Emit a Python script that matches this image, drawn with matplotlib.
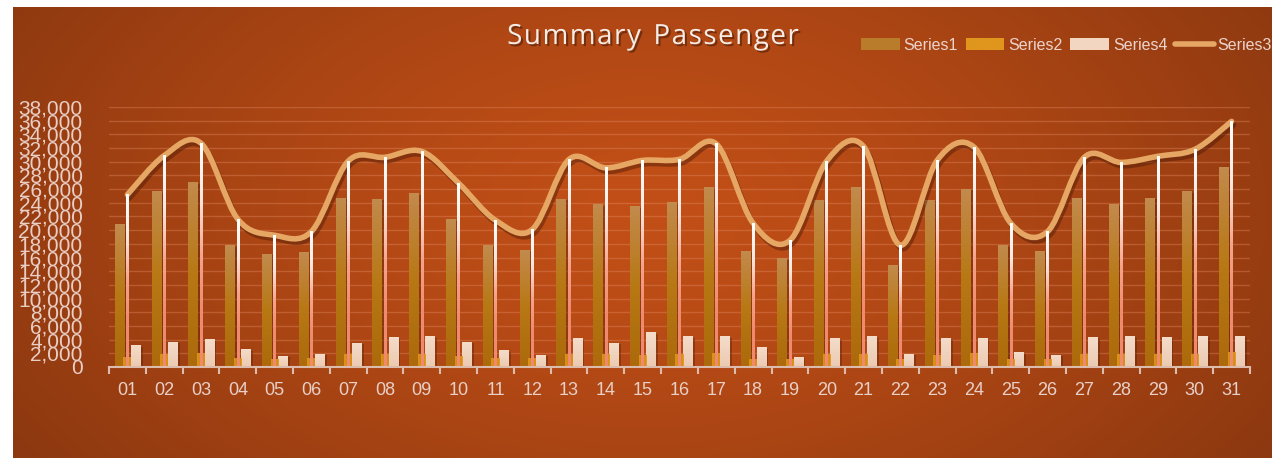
import numpy as np
import matplotlib
matplotlib.use("Agg")
from matplotlib import pyplot as plt
from matplotlib import patheffects as pe
from matplotlib.path import Path
from matplotlib.patches import PathPatch, Patch
from matplotlib.lines import Line2D
from matplotlib.colors import LinearSegmentedColormap, to_rgb
from matplotlib.ticker import FuncFormatter, MultipleLocator

# values
days = ["%02d" % d for d in range(1, 32)]
series1 = [20800, 25600, 26900, 17800, 16500, 16800, 24700, 24550, 25400, 21500,
           17800, 17100, 24550, 23800, 23500, 24100, 26200, 16950, 15800, 24300,
           26200, 14900, 24400, 26000, 17800, 16950, 24700, 23800, 24700, 25600, 29200]
series2 = [1460, 1900, 2050, 1300, 1170, 1300, 1900, 1900, 1900, 1600,
           1300, 1300, 1900, 1900, 1750, 1900, 2050, 1170, 1170, 1900,
           1900, 1170, 1750, 2050, 1170, 1170, 1900, 1900, 1900, 1900, 2200]
series4 = [3070, 3650, 3950, 2500, 1600, 1900, 3500, 4240, 4400, 3650,
           2340, 1750, 4100, 3500, 4970, 4500, 4400, 2900, 1460, 4100,
           4400, 1900, 4100, 4100, 2050, 1750, 4240, 4400, 4240, 4400, 4500]
series3 = [25200, 30900, 32700, 21600, 19250, 19800, 30100, 30650, 31500, 26850,
           21450, 20100, 30350, 29100, 30200, 30350, 32600, 21000, 18500, 30100,
           32250, 17800, 30200, 32150, 21000, 19800, 30650, 29900, 30800, 31800, 35900]

W, H = 1285, 458
fig = plt.figure(figsize=(W / 100, H / 100), dpi=100, facecolor="white")

# background panel with a soft radial gradient
bg = fig.add_axes([13 / W, 0, 1259 / W, 451 / H], zorder=-10)
u, v = np.meshgrid(np.linspace(0, 1, 400), np.linspace(0, 1, 200))
d = np.clip(np.sqrt(((u - 0.5) / 0.6) ** 2 + ((v - 0.55) / 1.0) ** 2), 0, 1) ** 1.3
c_mid, c_edge = np.array(to_rgb("#c24f17")), np.array(to_rgb("#8c3810"))
img = c_mid[None, None, :] * (1 - d[..., None]) + c_edge[None, None, :] * d[..., None]
bg.imshow(img, aspect="auto", extent=[0, 1, 0, 1], origin="lower")
bg.axis("off")

ax = fig.add_axes([109 / W, 91 / H, 1141 / W, 260 / H])
ax.set_facecolor("none")
x = np.arange(len(days))

# grid
ax.yaxis.set_major_locator(MultipleLocator(2000))
ax.grid(axis="y", color="#e8906a", alpha=0.35, lw=1)
ax.set_axisbelow(True)
for s in ["top", "right", "left"]:
    ax.spines[s].set_visible(False)
ax.spines["bottom"].set_color("#dcbcac")
ax.spines["bottom"].set_linewidth(1.5)
ax.spines["bottom"].set_zorder(6)


def gradient_bars(bars, top, mid, bottom):
    cmap = LinearSegmentedColormap.from_list("g", [top, mid, bottom])
    grad = np.linspace(0, 1, 64)[:, None]
    for b in bars:
        x0, w, h = b.get_x(), b.get_width(), b.get_height()
        ax.imshow(grad, cmap=cmap, aspect="auto", extent=[x0, x0 + w, 0, h],
                  zorder=b.get_zorder() + 0.1)


shadow = [pe.SimplePatchShadow(offset=(2, -1), shadow_rgbFace="#4a1a05", alpha=0.35), pe.Normal()]
b1 = ax.bar(x - 0.22, series1, width=0.245, color="#b87818", zorder=2)
b4 = ax.bar(x + 0.22, series4, width=0.245, color="#f0d2bc", zorder=2)
for b in list(b1) + list(b4):
    b.set_path_effects(shadow)
gradient_bars(b1, "#c28a4c", "#b87814", "#ac6a0c")
gradient_bars(b4, "#f4dcca", "#f0d3bd", "#eccab2")
ax.bar(x, series2, width=0.22, color="#e0961c", alpha=0.9, zorder=3)

# smooth total line (Catmull-Rom style bezier, like a spreadsheet smoothed line)
pts = np.column_stack([x, series3]).astype(float)
ext = np.vstack([pts[0], pts, pts[-1]])
verts, codes = [pts[0]], [Path.MOVETO]
for i in range(len(pts) - 1):
    p0, p1, p2, p3 = ext[i], ext[i + 1], ext[i + 2], ext[i + 3]
    verts += [p1 + (p2 - p0) / 6, p2 - (p3 - p1) / 6, p2]
    codes += [Path.CURVE4] * 3
curve = PathPatch(Path(verts, codes), fill=False, edgecolor="#e6a664", lw=4, zorder=4,
                  capstyle="round", joinstyle="round")
curve.set_path_effects([pe.SimpleLineShadow(offset=(1.5, -2.5), shadow_color="#4a1805", alpha=0.45),
                        pe.Normal()])
ax.add_patch(curve)

# drop lines: white at the top fading to salmon at the axis
drop_cmap = LinearSegmentedColormap.from_list("drop", ["#ffffff", "#fde6de", "#f6a48c", "#f08a6e", "#f08a6e"])
drop_grad = np.linspace(0, 1, 128)[:, None]
for xi, yi in zip(x, series3):
    ax.imshow(drop_grad, cmap=drop_cmap, aspect="auto", extent=[xi - 0.034, xi + 0.034, 0, yi],
              zorder=5, interpolation="bilinear")

ax.set_xlim(-0.5, len(days) - 0.5)
ax.set_ylim(0, 38000)

narrow = ["Liberation Sans Narrow", "Liberation Sans", "DejaVu Sans"]
ax.yaxis.set_major_formatter(FuncFormatter(lambda val, p: "{:,}".format(int(val))))
ax.tick_params(axis="y", length=0, pad=19, labelcolor="#e8cec4", labelsize=15)
for t in ax.get_yticklabels():
    t.set_family(narrow)

ax.set_xticks(x)
ax.set_xticklabels(days)
ax.set_xticks(np.arange(len(days) + 1) - 0.5, minor=True)
ax.tick_params(axis="x", which="major", length=0, pad=11, labelcolor="#e8d0c8", labelsize=13)
ax.tick_params(axis="x", which="minor", length=5, width=1.5, color="#dcbcac", direction="out")
for t in ax.get_xticklabels():
    t.set_family(narrow)

# title, spaced out a little like the original
title = "Summary Passenger"
title_font = dict(fontsize=20, family=["Open Sans", "DejaVu Sans"], color="#f6ece6")
title_fx = [pe.withSimplePatchShadow(offset=(1.5, -1.5), shadow_rgbFace="black", alpha=0.35)]
renderer = fig.canvas.get_renderer()
widths = []
for ch in title:
    probe = fig.text(0, 0, ch if ch != " " else "n", **title_font)
    w = probe.get_window_extent(renderer).width
    widths.append(w * (0.55 if ch == " " else 1.0))
    probe.remove()
spacing = 1.6
total = sum(widths) + spacing * (len(title) - 1)
xpos = 653 - total / 2
for ch, w in zip(title, widths):
    if ch != " ":
        fig.text(xpos / W, 1 - 37 / H, ch, ha="left", va="center", path_effects=title_fx, **title_font)
    xpos += w + spacing

handles = [Patch(facecolor="#b87c2a", label="Series1"),
           Patch(facecolor="#e0961c", label="Series2"),
           Patch(facecolor="#f2d6c2", label="Series4"),
           Line2D([], [], color="#e6a664", lw=4, solid_capstyle="round", label="Series3")]
leg = fig.legend(handles=handles, loc="center right", bbox_to_anchor=(1272 / W, 1 - 45 / H),
                 ncol=4, frameon=False, handlelength=2.4, handletextpad=0.25, columnspacing=0.5,
                 borderpad=0, borderaxespad=0, prop={"family": ["Liberation Sans", "DejaVu Sans"], "size": 11.5})
for t in leg.get_texts():
    t.set_color("#ecd4cc")

fig.savefig("out.png", dpi=100, facecolor="white")
